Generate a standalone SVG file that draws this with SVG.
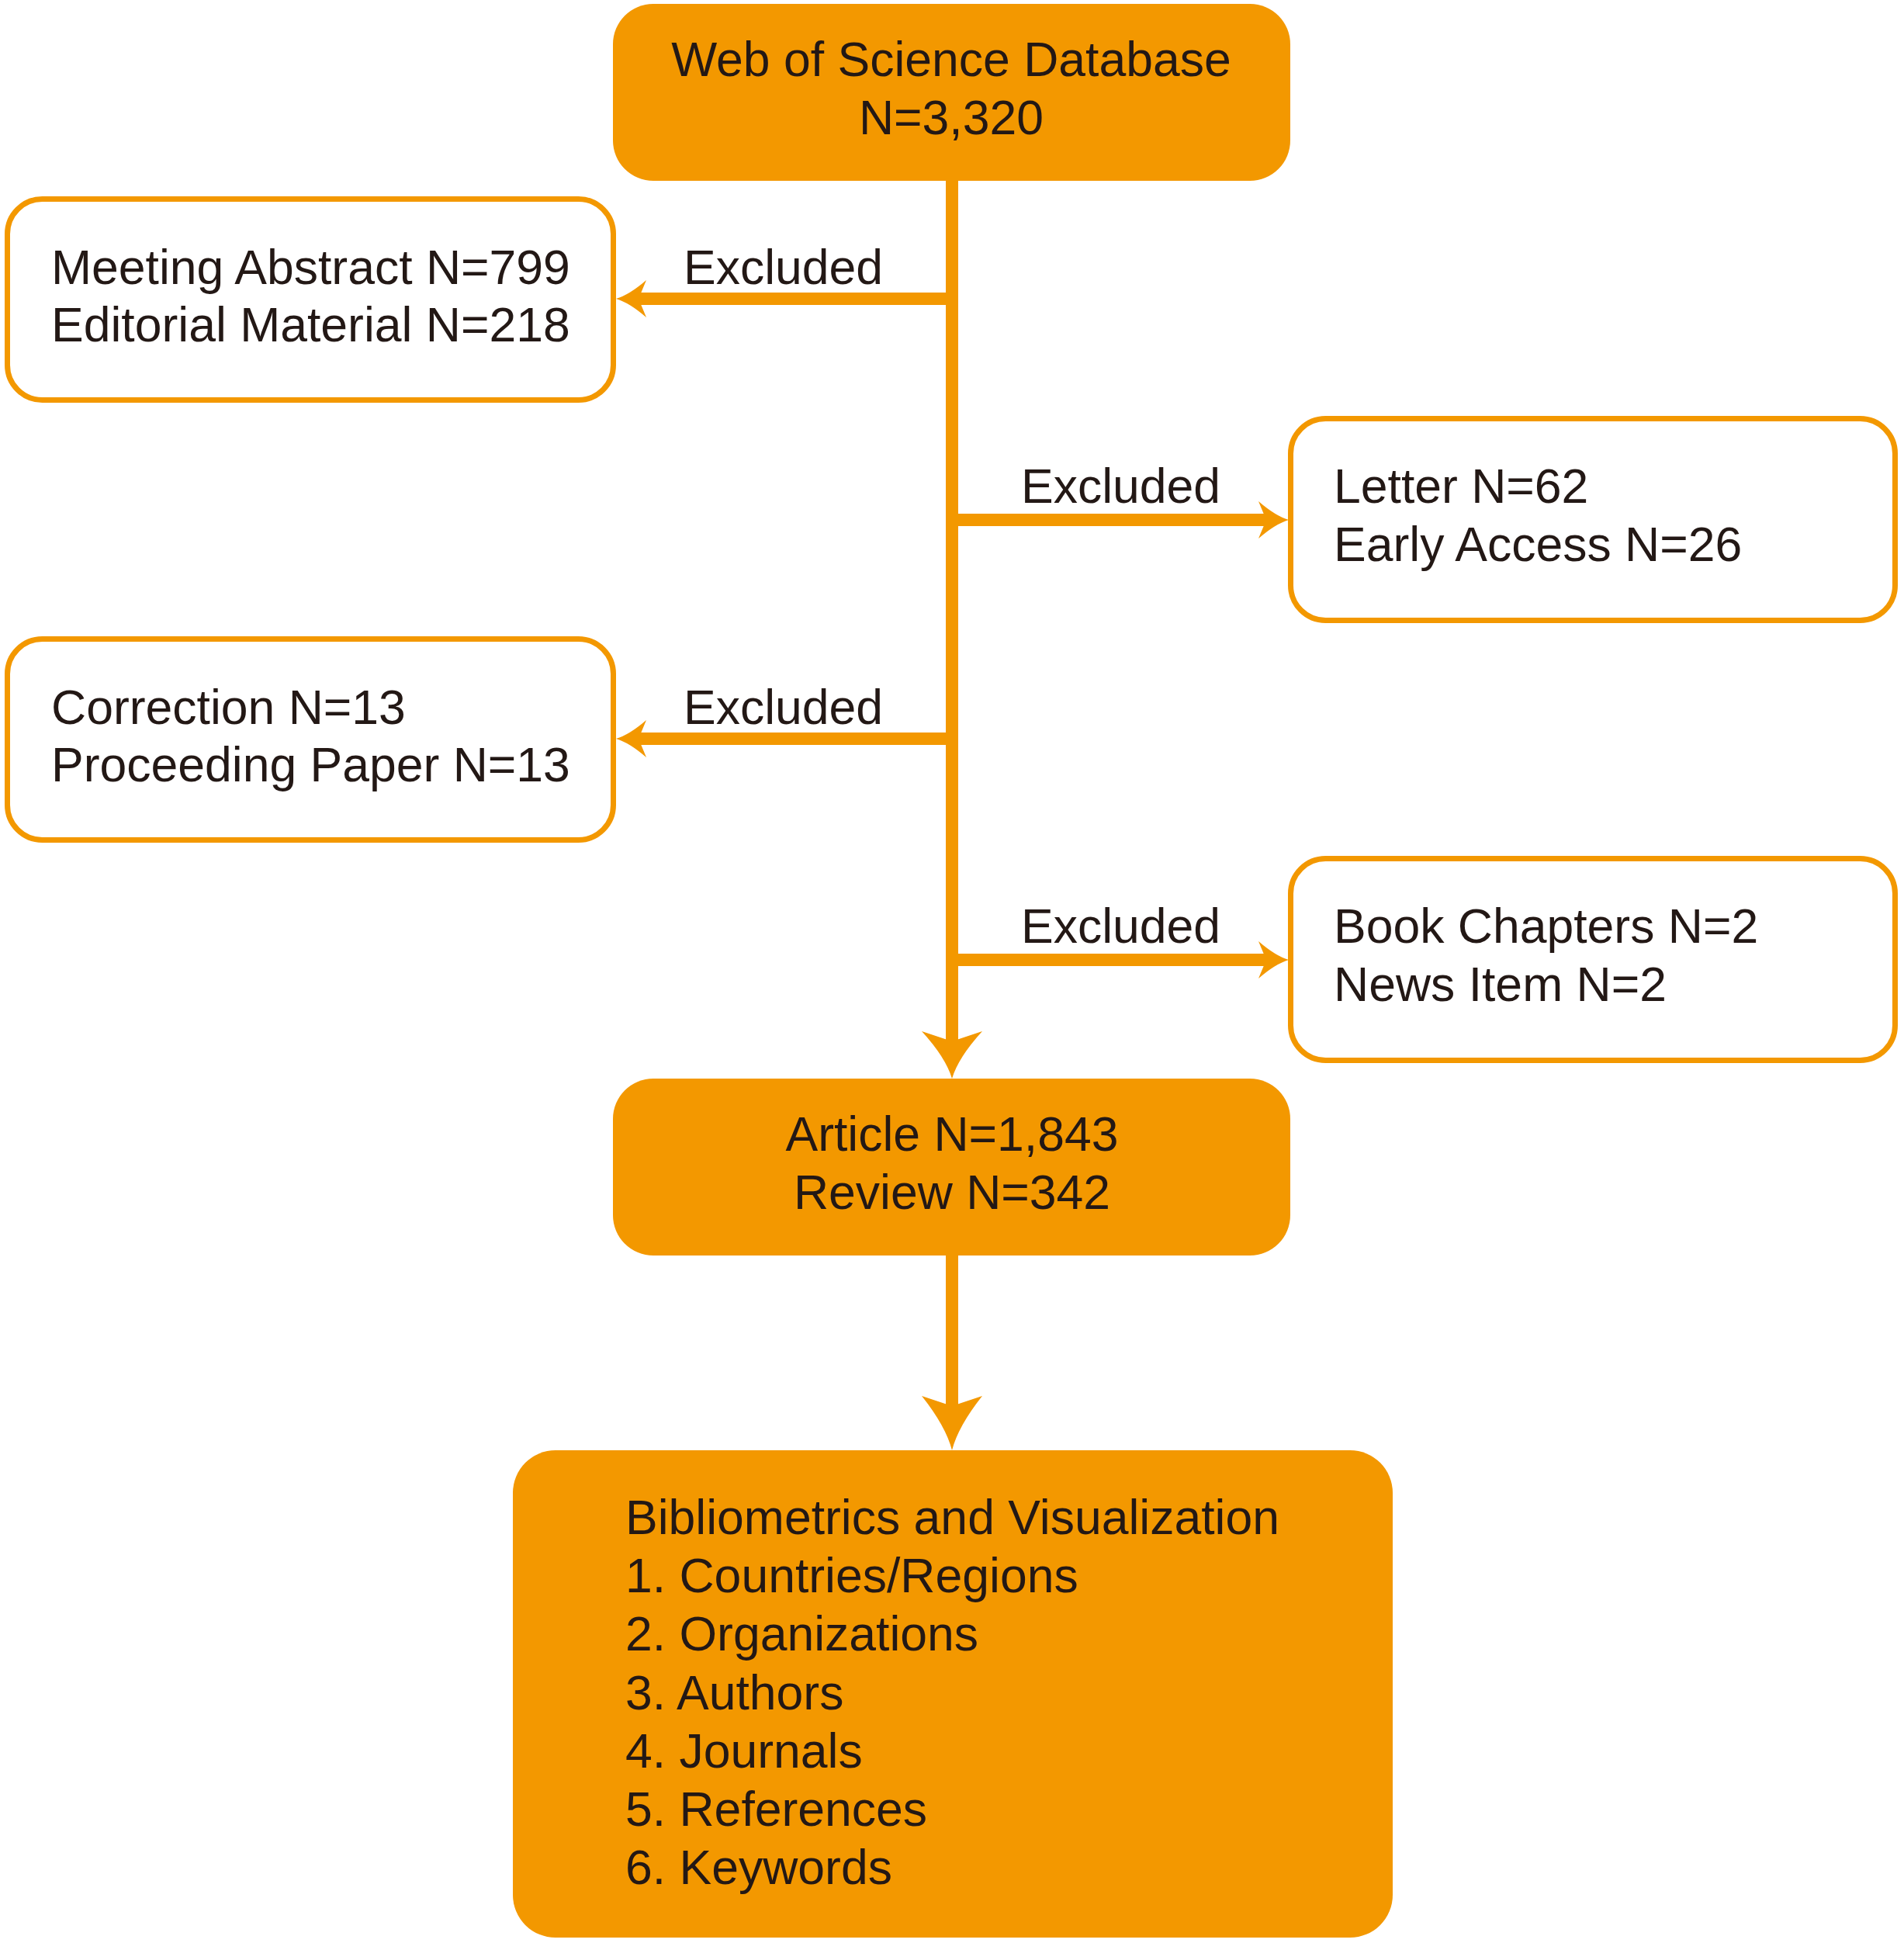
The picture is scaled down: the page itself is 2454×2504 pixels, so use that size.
<svg xmlns="http://www.w3.org/2000/svg" width="2454" height="2504" viewBox="0 0 2454 2504">
<style>
.filled{fill:#F39800;stroke:none}
.outlined{fill:#FFFFFF;stroke:#F39800;stroke-width:7}
.t{font-family:"Liberation Sans",Arial,sans-serif;font-size:62.5px;fill:#231815}
.c{text-anchor:middle}
.conn{fill:none;stroke:#F39800;stroke-width:16;stroke-linecap:butt}
</style>
<defs>
<marker id="arrS" markerUnits="userSpaceOnUse" viewBox="0 -25 40 50" markerWidth="40" markerHeight="50" refX="10" refY="0" orient="auto" overflow="visible">
<path d="M0,-24 Q22,-5 39,0 Q22,5 0,24 L10,0 Z" fill="#F39800"/>
</marker>
<marker id="arrL" markerUnits="userSpaceOnUse" viewBox="0 -40 62 80" markerWidth="62" markerHeight="80" refX="13" refY="0" orient="auto" overflow="visible">
<path d="M0,-39 Q34,-8 61,0 Q34,8 0,39 L13,0 Z" fill="#F39800"/>
</marker>
<marker id="arrXL" markerUnits="userSpaceOnUse" viewBox="0 -40 71 80" markerWidth="71" markerHeight="80" refX="13" refY="0" orient="auto" overflow="visible">
<path d="M0,-39 Q39,-8 70,0 Q39,8 0,39 L13,0 Z" fill="#F39800"/>
</marker>
</defs>
<rect width="2454" height="2504" fill="#FFFFFF"/>
<g id="connectors">
<path class="conn" d="M1227,233 L1227,1342" marker-end="url(#arrL)"/>
<path class="conn" d="M1227,1618 L1227,1812" marker-end="url(#arrXL)"/>
<path class="conn" d="M1227,385 L823,385" marker-end="url(#arrS)"/>
<path class="conn" d="M1227,670 L1632,670" marker-end="url(#arrS)"/>
<path class="conn" d="M1227,952 L823,952" marker-end="url(#arrS)"/>
<path class="conn" d="M1227,1237 L1632,1237" marker-end="url(#arrS)"/>
<text class="t" x="881" y="366">Excluded</text>
<text class="t" x="1316" y="648">Excluded</text>
<text class="t" x="881" y="933">Excluded</text>
<text class="t" x="1316" y="1215">Excluded</text>
</g>
<g id="node-wos">
<rect class="filled" x="790" y="5" width="873" height="228" rx="52" ry="52"/>
<text class="t c" x="1226" y="98">Web of Science Database</text>
<text class="t c" x="1226" y="173">N=3,320</text>
</g>
<g id="node-excl1">
<rect class="outlined" x="9.5" y="256.5" width="781" height="259" rx="45" ry="45"/>
<text class="t" x="66" y="366">Meeting Abstract N=799</text>
<text class="t" x="66" y="440">Editorial Material N=218</text>
</g>
<g id="node-excl2">
<rect class="outlined" x="1663.5" y="539.5" width="779" height="260" rx="45" ry="45"/>
<text class="t" x="1719" y="648">Letter N=62</text>
<text class="t" x="1719" y="723">Early Access N=26</text>
</g>
<g id="node-excl3">
<rect class="outlined" x="9.5" y="823.5" width="781" height="259" rx="45" ry="45"/>
<text class="t" x="66" y="933">Correction N=13</text>
<text class="t" x="66" y="1007">Proceeding Paper N=13</text>
</g>
<g id="node-excl4">
<rect class="outlined" x="1663.5" y="1106.5" width="779" height="260" rx="45" ry="45"/>
<text class="t" x="1719" y="1215">Book Chapters N=2</text>
<text class="t" x="1719" y="1290">News Item N=2</text>
</g>
<g id="node-included">
<rect class="filled" x="790" y="1390" width="873" height="228" rx="52" ry="52"/>
<text class="t c" x="1227" y="1483">Article N=1,843</text>
<text class="t c" x="1227" y="1558">Review N=342</text>
</g>
<g id="node-analysis">
<rect class="filled" x="661" y="1869" width="1134" height="628" rx="55" ry="55"/>
<text class="t" x="806" y="1977">Bibliometrics and Visualization</text>
<text class="t" x="806" y="2052">1. Countries/Regions</text>
<text class="t" x="806" y="2127">2. Organizations</text>
<text class="t" x="806" y="2203">3. Authors</text>
<text class="t" x="806" y="2278">4. Journals</text>
<text class="t" x="806" y="2353">5. References</text>
<text class="t" x="806" y="2428">6. Keywords</text>
</g>
</svg>
